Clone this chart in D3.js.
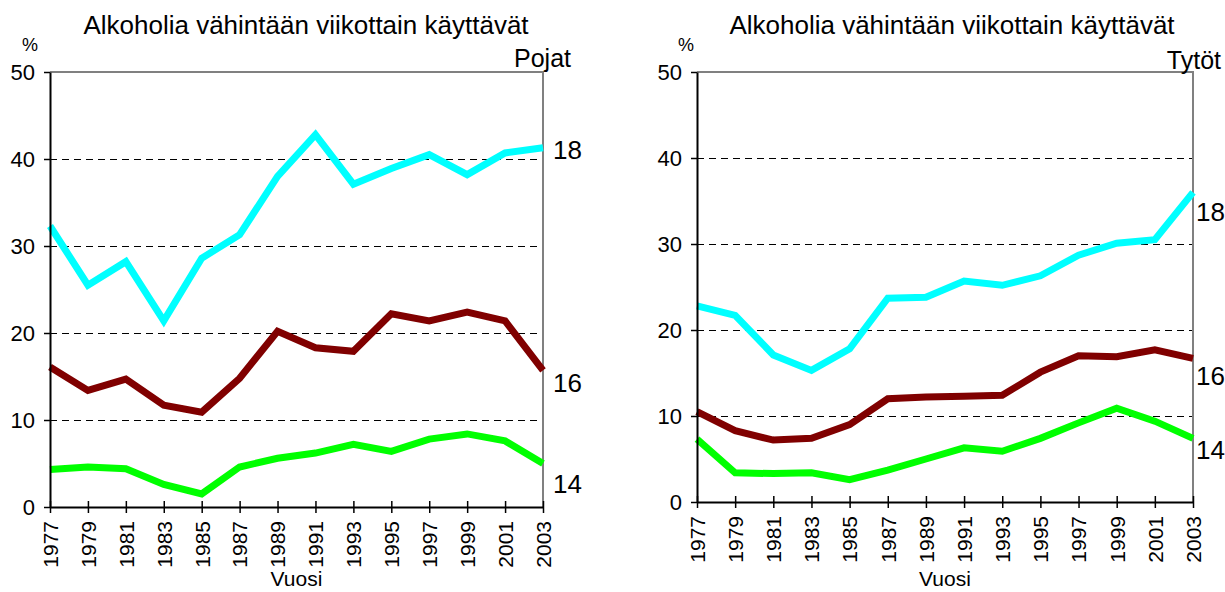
<!DOCTYPE html>
<html><head><meta charset="utf-8">
<script src="https://cdn.jsdelivr.net/npm/d3@7"></script>
<style>body{margin:0;background:#fff;} svg{display:block;font-family:Arial,"Liberation Sans",sans-serif;}</style>
</head><body>
<svg id="c" width="1225" height="592"></svg>
<script>
const years = [1977,1979,1981,1983,1985,1987,1989,1991,1993,1995,1997,1999,2001,2003];
const yTicks = [0,10,20,30,40,50];
const title = "Alkoholia vähintään viikottain käyttävät";
const seriesNames = ["18","16","14"];
const seriesColors = ["#00FFFF","#800000","#00FF00"];
// Pojat
const boys18 = [32.3,25.5,28.2,21.4,28.6,31.3,38.0,42.8,37.1,38.9,40.5,38.2,40.7,41.3];
const boys16 = [16.1,13.4,14.7,11.7,10.9,14.8,20.2,18.3,17.9,22.2,21.4,22.4,21.4,15.7];
const boys14 = [4.3,4.6,4.4,2.6,1.5,4.6,5.6,6.2,7.2,6.4,7.8,8.4,7.6,5.0];
// Tytöt
const girls18 = [22.8,21.7,17.1,15.3,17.8,23.7,23.8,25.7,25.2,26.3,28.7,30.1,30.5,36.0];
const girls16 = [10.5,8.3,7.2,7.4,9.0,12.0,12.2,12.3,12.4,15.1,17.0,16.9,17.7,16.7];
const girls14 = [7.3,3.4,3.3,3.4,2.6,3.7,5.0,6.3,5.9,7.4,9.2,10.9,9.4,7.4];

const svg = d3.select("#c");
const FONT = "Arial,'Liberation Sans',sans-serif";

function panel(cfg){
  const g = svg.append("g");
  const x = d3.scaleLinear().domain([1977,2003]).range([cfg.x0,cfg.x1]);
  const y = d3.scaleLinear().domain([0,50]).range([cfg.y0,cfg.y1]);
  // grid
  g.selectAll(".grid").data([10,20,30,40]).join("line")
    .attr("x1",cfg.x0).attr("x2",cfg.x1)
    .attr("y1",d=>Math.round(y(d))+0.5).attr("y2",d=>Math.round(y(d))+0.5)
    .attr("stroke","#000").attr("stroke-width",1).attr("stroke-dasharray","7,5");
  // frame top & right
  g.append("path").attr("d",`M${cfg.x0},${y(50)}H${cfg.x1}V${cfg.y0}`)
    .attr("fill","none").attr("stroke","#808080").attr("stroke-width",2);
  // lines
  const line = d3.line().x((d,i)=>x(years[i])).y(d=>y(d));
  cfg.series.forEach((s,i)=>{
    g.append("path").datum(s).attr("d",line).attr("fill","none")
      .attr("stroke",seriesColors[i]).attr("stroke-width",7).attr("stroke-linejoin","miter");
  });
  // y axis
  const ya = g.append("g").attr("transform",`translate(${cfg.x0},0)`)
    .call(d3.axisLeft(y).tickValues(yTicks).tickSize(6).tickPadding(9).tickSizeOuter(0));
  ya.select(".domain").attr("stroke","#000").attr("stroke-width",2);
  ya.selectAll(".tick line").attr("stroke","#000").attr("stroke-width",1.5);
  ya.selectAll(".tick text").attr("font-size",22).attr("fill","#000").attr("font-family",FONT);
  // x axis
  const xa = g.append("g").attr("transform",`translate(0,${cfg.y0})`)
    .call(d3.axisBottom(x).tickValues(years).tickFormat(d3.format("d")).tickSize(6).tickSizeOuter(0));
  xa.select(".domain").attr("stroke","#000").attr("stroke-width",2);
  xa.selectAll(".tick line").attr("stroke","#000").attr("stroke-width",1.5).attr("y1",-6);
  xa.selectAll(".tick text").attr("font-size",21).attr("fill","#000")
    .attr("font-family",FONT)
    .attr("transform","rotate(-90)").attr("text-anchor","end")
    .attr("x",-14).attr("y",0).attr("dy","0.35em");
  // texts
  g.append("text").attr("x",cfg.titleX).attr("y",34).attr("text-anchor","middle")
    .attr("font-size",26).text(title);
  g.append("text").attr("x",cfg.pctX).attr("y",51).attr("text-anchor","middle")
    .attr("font-size",18).text("%");
  g.append("text").attr("x",cfg.nameX).attr("y",cfg.nameY).attr("text-anchor","end")
    .attr("font-size",25).text(cfg.name);
  g.append("text").attr("x",(cfg.x0+cfg.x1)/2).attr("y",586).attr("text-anchor","middle")
    .attr("font-size",21).text("Vuosi");
  seriesNames.forEach((n,i)=>{
    g.append("text").attr("x",cfg.x1+cfg.labDx).attr("y",cfg.labY[i]).attr("dy","0.35em")
      .attr("font-size",26).text(n);
  });
}

panel({x0:50,x1:543,y0:507,y1:72,series:[boys18,boys16,boys14],
  titleX:306,pctX:30,name:"Pojat",nameX:571,nameY:67,labDx:10,labY:[150,383,484]});
panel({x0:697,x1:1193,y0:502,y1:72,series:[girls18,girls16,girls14],
  titleX:952,pctX:686,name:"Tytöt",nameX:1221,nameY:69,labDx:3,labY:[212,376,450]});
</script>
</body></html>
